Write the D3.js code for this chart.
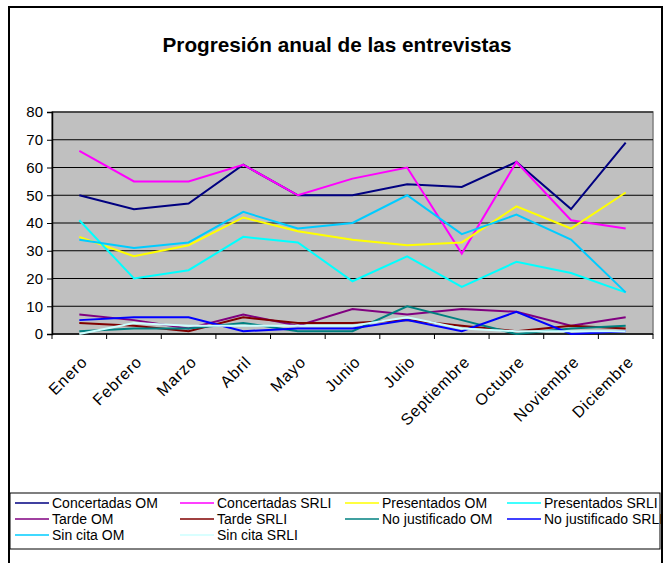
<!DOCTYPE html>
<html>
<head>
<meta charset="utf-8">
<script src="https://cdn.jsdelivr.net/npm/d3@7"></script>
<style>
  body { margin: 0; background: #fff; }
  svg { display: block; font-family: "Liberation Sans", Arial, sans-serif; }
</style>
</head>
<body>
<svg id="chart" width="665" height="563"></svg>
<script>
// months on the x axis
var months = ["Enero", "Febrero", "Marzo", "Abril", "Mayo", "Junio", "Julio",
              "Septiembre", "Octubre", "Noviembre", "Diciembre"];

var yTicks = [0, 10, 20, 30, 40, 50, 60, 70, 80];

// series
var concertadasOM   = [50, 45, 47, 61, 50, 50, 54, 53, 62, 45, 69];
var concertadasSRLI = [66, 55, 55, 61, 50, 56, 60, 29, 62, 41, 38];
var presentadosOM   = [35, 28, 32, 42, 37, 34, 32, 33, 46, 38, 51];
var presentadosSRLI = [41, 20, 23, 35, 33, 19, 28, 17, 26, 22, 15];
var tardeOM         = [7, 5, 2, 7, 3, 9, 7, 9, 8, 3, 6];
var tardeSRLI       = [4, 3, 1, 6, 4, 4, 5, 3, 1, 3, 2];
var noJustOM        = [1, 2, 2, 4, 1, 1, 10, 5, 0, 2, 3];
var noJustSRLI      = [5, 6, 6, 1, 2, 2, 5, 1, 8, 0, 1];
var sinCitaOM       = [34, 31, 33, 44, 38, 40, 50, 36, 43, 34, 15];
var sinCitaSRLI     = [0, 4, 3, 3, 3, 3, 6, 2, 1, 1, 1];

var seriesNames = ["Concertadas OM", "Concertadas SRLI", "Presentados OM", "Presentados SRLI",
                   "Tarde OM", "Tarde SRLI", "No justificado OM", "No justificado SRLI",
                   "Sin cita OM", "Sin cita SRLI"];
var seriesColors = ["#000080", "#ff00ff", "#ffff00", "#00ffff",
                    "#800080", "#800000", "#008080", "#0000ff",
                    "#00ccff", "#ccffff"];
var seriesValues = [concertadasOM, concertadasSRLI, presentadosOM, presentadosSRLI,
                    tardeOM, tardeSRLI, noJustOM, noJustSRLI, sinCitaOM, sinCitaSRLI];

var series = seriesNames.map(function(n, i) {
  return { name: n, color: seriesColors[i], values: seriesValues[i] };
});

var svg = d3.select("#chart");

// outer chart border
svg.append("rect")
    .attr("x", 9).attr("y", 7)
    .attr("width", 653).attr("height", 570)
    .attr("fill", "#fff")
    .attr("stroke", "#000")
    .attr("stroke-width", 2);

svg.append("text")
    .attr("x", 337).attr("y", 52)
    .attr("text-anchor", "middle")
    .attr("font-size", 21)
    .attr("font-weight", "bold")
    .attr("textLength", 349)
    .attr("lengthAdjust", "spacingAndGlyphs")
    .text("Progresión anual de las entrevistas");

var plot = { left: 52, right: 653, top: 112, bottom: 334 };

var x = d3.scaleBand()
    .domain(months)
    .range([plot.left, plot.right]);

var y = d3.scaleLinear()
    .domain([0, 80])
    .range([plot.bottom, plot.top]);

// plot background
svg.append("rect")
    .attr("x", plot.left).attr("y", plot.top)
    .attr("width", plot.right - plot.left)
    .attr("height", plot.bottom - plot.top)
    .attr("fill", "#c0c0c0")
    .attr("stroke", "#808080")
    .attr("stroke-width", 1.5);

// gridlines
svg.append("g")
  .selectAll("line")
  .data(yTicks.filter(function(d) { return d > 0; }))
  .enter().append("line")
    .attr("x1", plot.left).attr("x2", plot.right)
    .attr("y1", function(d) { return y(d); })
    .attr("y2", function(d) { return y(d); })
    .attr("stroke", "#000")
    .attr("stroke-width", 1);

// y axis
var yAxis = svg.append("g")
    .attr("transform", "translate(" + plot.left + ",0)")
    .call(d3.axisLeft(y).tickValues(yTicks).tickSize(5).tickPadding(4));
yAxis.select(".domain").attr("stroke", "#000").attr("stroke-width", 1.5);
yAxis.selectAll("text").attr("font-size", 15).attr("fill", "#000")
    .attr("font-family", "Liberation Sans, Arial, sans-serif");

// x axis: ticks at band edges
var xAxis = svg.append("g")
    .attr("transform", "translate(0," + plot.bottom + ")");
xAxis.append("line")
    .attr("x1", plot.left).attr("x2", plot.right)
    .attr("stroke", "#000").attr("stroke-width", 1.5);
xAxis.selectAll(".tk")
    .data(months.concat(["end"]))
  .enter().append("line")
    .attr("class", "tk")
    .attr("x1", function(d, i) { return i < months.length ? x(d) : plot.right; })
    .attr("x2", function(d, i) { return i < months.length ? x(d) : plot.right; })
    .attr("y1", 0).attr("y2", 5)
    .attr("stroke", "#000");
xAxis.selectAll(".lbl")
    .data(months)
  .enter().append("text")
    .attr("class", "lbl")
    .attr("transform", function(d) {
      return "translate(" + (x(d) + x.bandwidth() / 2 + 5) + ",25) rotate(-45)";
    })
    .attr("text-anchor", "end")
    .attr("dy", "0.35em")
    .attr("font-size", 16)
    .attr("letter-spacing", 0.8)
    .text(function(d) { return d; });

// lines
var line = d3.line()
    .x(function(d, i) { return x(months[i]) + x.bandwidth() / 2; })
    .y(function(d) { return y(d); });

svg.append("g")
  .selectAll("path")
  .data(series)
  .enter().append("path")
    .attr("d", function(d) { return line(d.values); })
    .attr("fill", "none")
    .attr("stroke", function(d) { return d.color; })
    .attr("stroke-width", 2)
    .attr("stroke-linejoin", "miter");

// legend
svg.append("rect")
    .attr("x", 10).attr("y", 493)
    .attr("width", 650).attr("height", 56)
    .attr("fill", "#fff")
    .attr("stroke", "#000")
    .attr("stroke-width", 1);

var colX = [15, 180, 345, 507];
var rowY = [503, 519, 535];

var items = svg.append("g")
  .selectAll("g")
  .data(series)
  .enter().append("g")
    .attr("transform", function(d, i) {
      return "translate(" + colX[i % 4] + "," + rowY[Math.floor(i / 4)] + ")";
    });
items.append("line")
    .attr("x1", 0).attr("x2", 34)
    .attr("stroke", function(d) { return d.color; })
    .attr("stroke-width", 1.5);
items.append("text")
    .attr("x", 37)
    .attr("dy", "0.35em")
    .attr("font-size", 14)
    .text(function(d) { return d.name; });
</script>
</body>
</html>
